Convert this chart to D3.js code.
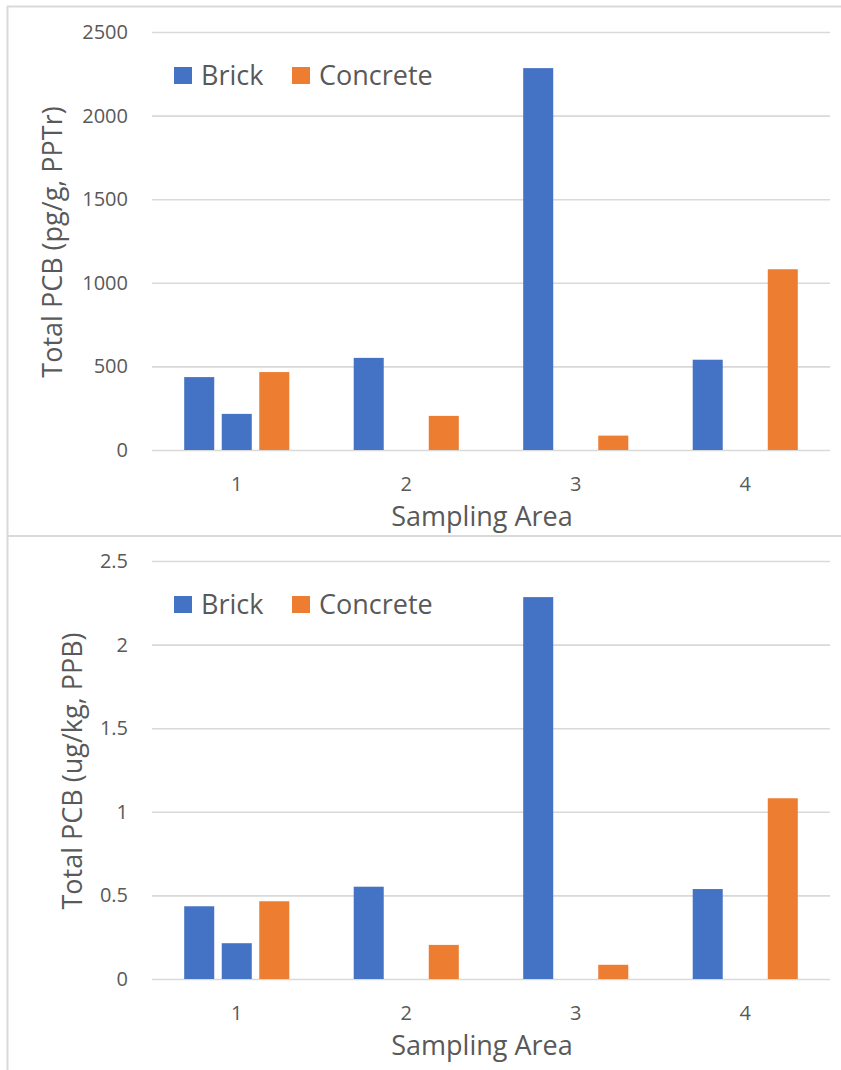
<!DOCTYPE html>
<html>
<head>
<meta charset="utf-8">
<script src="https://cdn.jsdelivr.net/npm/d3@7"></script>
<style>
  body { margin: 0; background: #fff; }
  text { font-family: "Open Sans", "Noto Sans", sans-serif; fill: #595959; }
</style>
</head>
<body>
<div id="chart"></div>
<script>
// sampling areas and series
var areas = ["1", "2", "3", "4"];
var seriesKeys = ["brickA", "brickB", "concrete"];

// top panel, pg/g (PPTr)
var brickA_pptr = [436, 551, 2284, 540];
var brickB_pptr = [216, null, null, null];
var concrete_pptr = [466, 204, 86, 1081];
var ticks_pptr = [0, 500, 1000, 1500, 2000, 2500];

// bottom panel, ug/kg (PPB)
var brickA_ppb = [0.435, 0.552, 2.284, 0.538];
var brickB_ppb = [0.214, null, null, null];
var concrete_ppb = [0.465, 0.204, 0.085, 1.081];
var ticks_ppb = [0, 0.5, 1, 1.5, 2, 2.5];

var legendItems = ["Brick", "Concrete"];

var W = 841, H = 1070;
var color = { brickA: "#4472C4", brickB: "#4472C4", concrete: "#ED7D31" };
var legendColor = ["#4472C4", "#ED7D31"];
var gridColor = "#d9d9d9";

var svg = d3.select("#chart").append("svg")
  .attr("width", W)
  .attr("height", H);

// frame lines around the two chart boxes
svg.append("line").attr("x1", 7).attr("x2", W).attr("y1", 6.5).attr("y2", 6.5)
  .style("stroke", gridColor).style("stroke-width", 2);
svg.append("line").attr("x1", 7.5).attr("x2", 7.5).attr("y1", 6).attr("y2", H)
  .style("stroke", gridColor).style("stroke-width", 2);
svg.append("line").attr("x1", 7).attr("x2", W).attr("y1", 536).attr("y2", 536)
  .style("stroke", gridColor).style("stroke-width", 2);

function drawPanel(p) {
  var rows = areas.map(function(a, i) {
    return { area: a, brickA: p.brickA[i], brickB: p.brickB[i], concrete: p.concrete[i] };
  });

  var x0 = d3.scaleBand()
    .domain(areas)
    .range([152, 830])
    .paddingInner(0.38)
    .paddingOuter(0.19);

  var x1 = d3.scaleBand()
    .domain(seriesKeys)
    .range([0, x0.bandwidth()])
    .paddingInner(0.2);

  var y = d3.scaleLinear()
    .domain([0, d3.max(p.ticks)])
    .range([p.bottom, p.top]);

  var g = svg.append("g");

  // y axis with gridlines
  var yAxis = g.append("g")
    .attr("transform", "translate(152,0)")
    .call(d3.axisLeft(y)
      .tickValues(p.ticks)
      .tickFormat(p.fmt)
      .tickSize(-(830 - 152))
      .tickPadding(24));
  yAxis.select(".domain").remove();
  yAxis.selectAll("line").style("stroke", gridColor).style("stroke-width", 1.6);
  yAxis.selectAll("text")
    .style("font-size", "20px")
    .style("fill", "#595959");

  // x axis labels
  var xAxis = g.append("g")
    .attr("transform", "translate(0," + p.bottom + ")")
    .call(d3.axisBottom(x0).tickSize(0).tickPadding(27));
  xAxis.select(".domain").remove();
  xAxis.selectAll("text")
    .style("font-size", "20px")
    .style("fill", "#595959");

  // bars
  var groups = g.append("g")
    .selectAll("g")
    .data(rows)
    .enter().append("g")
    .attr("transform", function(d) { return "translate(" + x0(d.area) + ",0)"; });

  groups.selectAll("rect")
    .data(function(d) {
      return seriesKeys.map(function(k) { return { key: k, value: d[k] }; })
        .filter(function(e) { return e.value != null; });
    })
    .enter().append("rect")
    .attr("x", function(d) { return x1(d.key); })
    .attr("width", x1.bandwidth())
    .attr("y", function(d) { return y(d.value); })
    .attr("height", function(d) { return y(0) - y(d.value); })
    .style("fill", function(d) { return color[d.key]; });

  // axis titles
  g.append("text")
    .attr("x", 482)
    .attr("y", p.bottom + 76)
    .attr("text-anchor", "middle")
    .style("font-size", "27px")
    .text("Sampling Area");

  g.append("text")
    .attr("transform", "translate(" + p.titleX + "," + ((p.top + p.bottom) / 2 + 1) + ") rotate(-90)")
    .attr("text-anchor", "middle")
    .style("font-size", "27px")
    .text(p.yTitle);

  // legend
  var legendX = [174, 292];
  var leg = g.append("g")
    .selectAll("g")
    .data(legendItems)
    .enter().append("g")
    .attr("transform", function(d, i) { return "translate(" + legendX[i] + "," + (p.top + 35) + ")"; });
  leg.append("rect")
    .attr("width", 18)
    .attr("height", 17)
    .style("fill", function(d, i) { return legendColor[i]; });
  leg.append("text")
    .attr("x", 27)
    .attr("y", 18)
    .style("font-size", "27px")
    .text(function(d) { return d; });
}

drawPanel({
  top: 32, bottom: 450,
  brickA: brickA_pptr, brickB: brickB_pptr, concrete: concrete_pptr,
  ticks: ticks_pptr,
  fmt: d3.format("d"),
  titleX: 62,
  yTitle: "Total PCB (pg/g, PPTr)"
});

drawPanel({
  top: 561, bottom: 979,
  brickA: brickA_ppb, brickB: brickB_ppb, concrete: concrete_ppb,
  ticks: ticks_ppb,
  fmt: function(v) { return String(v); },
  titleX: 82,
  yTitle: "Total PCB (ug/kg, PPB)"
});
</script>
</body>
</html>
